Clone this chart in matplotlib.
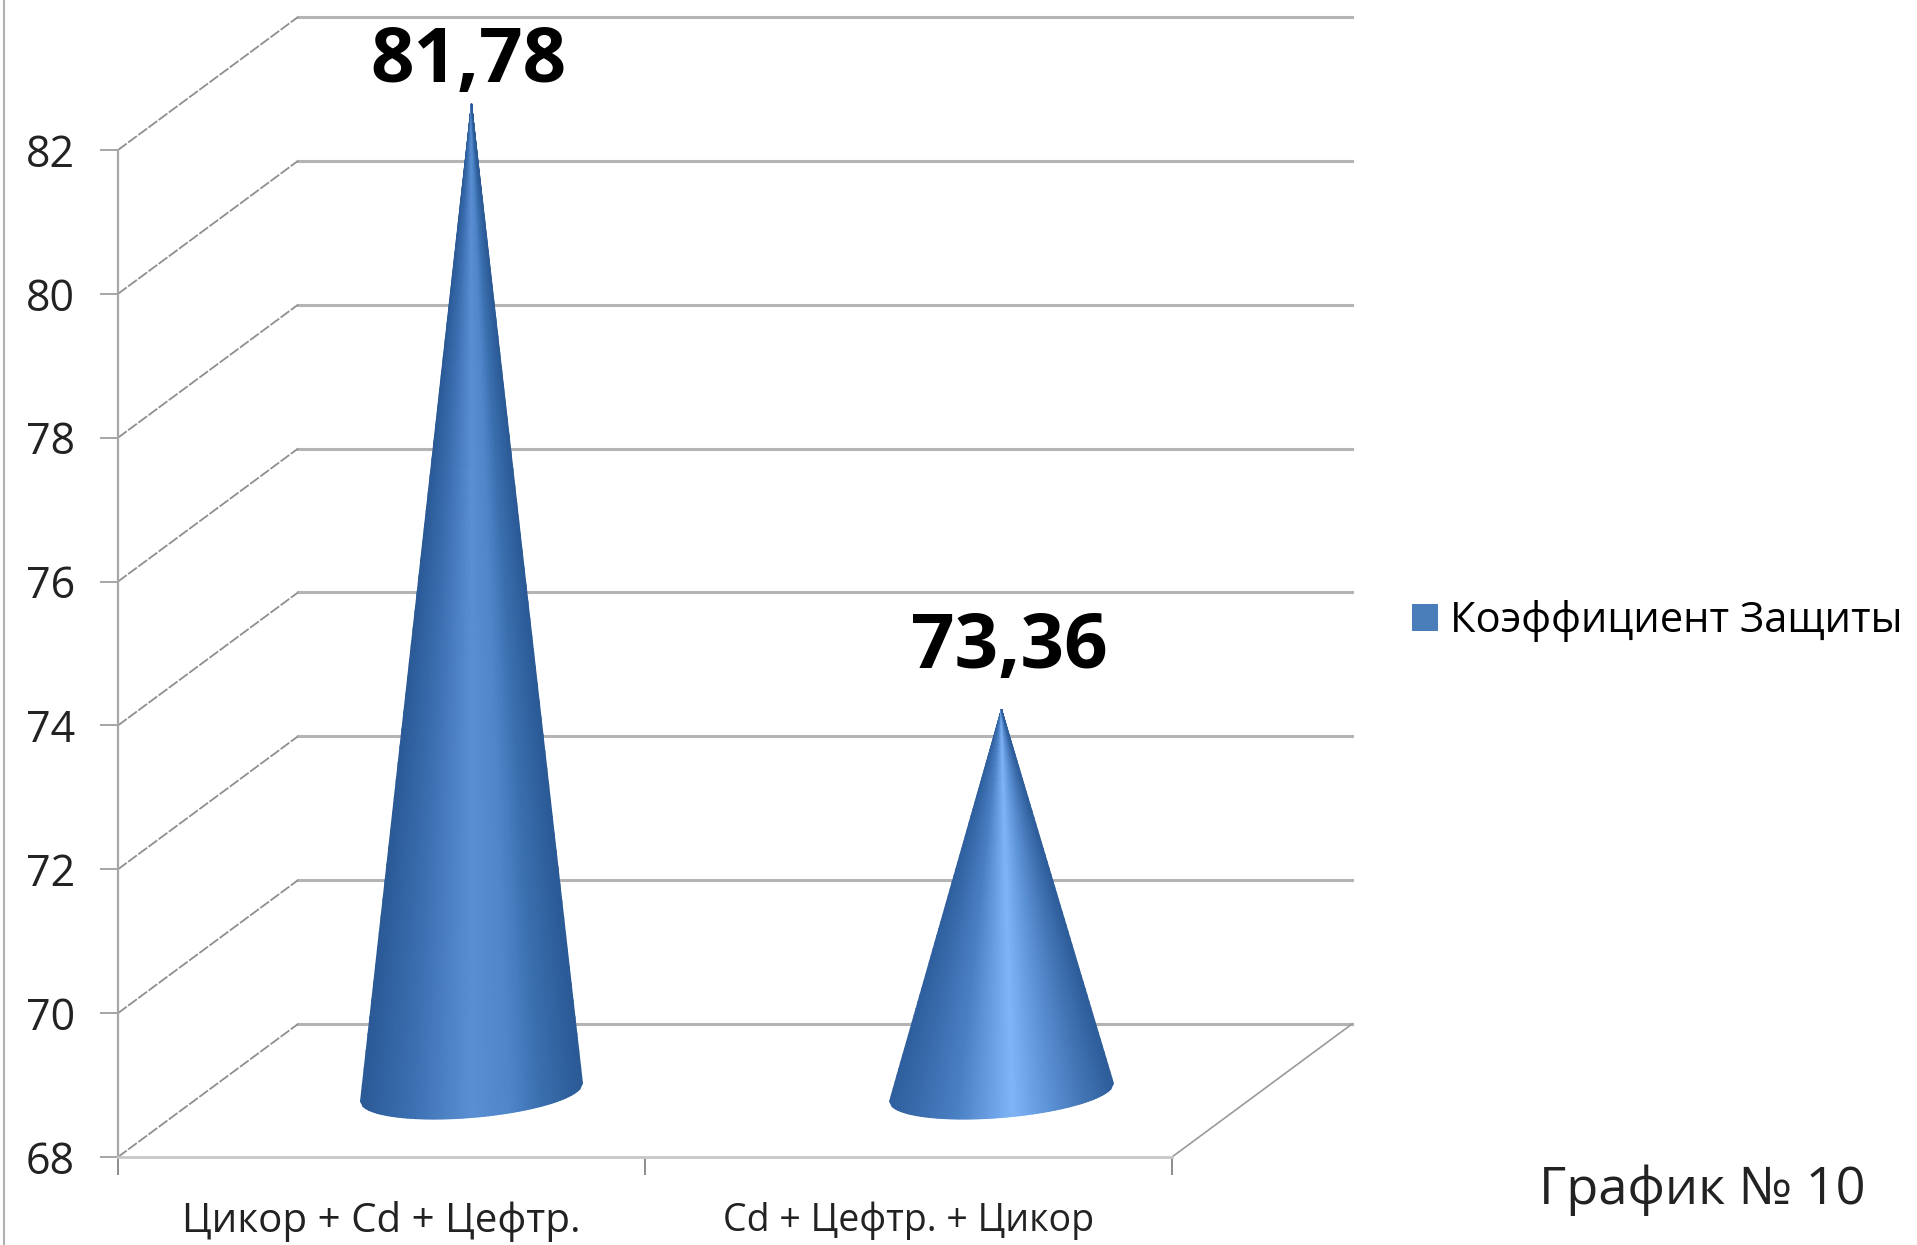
import numpy as np
import matplotlib
matplotlib.use('Agg')
import matplotlib.pyplot as plt
from matplotlib.colors import LinearSegmentedColormap
from matplotlib.lines import Line2D
from matplotlib.patches import Patch

plt.rcParams['font.family'] = ['Open Sans', 'DejaVu Sans']

categories = ['Цикор + Cd + Цефтр.', 'Cd + Цефтр. + Цикор']
values = [81.78, 73.36]
value_labels = ['81,78', '73,36']
y_ticks = [68, 70, 72, 74, 76, 78, 80, 82]
series_name = 'Коэффициент Защиты'
note = 'График № 10'

W, H = 1917, 1245
fig = plt.figure(figsize=(W / 100, H / 100), dpi=100)

# front plane of the fake 3d box, in pixels of the picture
left, right, y68, y82 = 118, 1172, 1157, 150
ax = fig.add_axes([left / W, 1 - y68 / H, (right - left) / W, (y68 - y82) / H])
ax.set_xlim(0, 2)
ax.set_ylim(68, 82)

# depth of the box in data units
dx = 180 / ((right - left) / 2)
dy = 133 / ((y68 - y82) / 14)

grid_col = '#b4b4b4'
axis_col = '#a6a6a6'

# back wall and side wall
for v in y_ticks:
    ax.plot([dx, 2 + dx], [v + dy, v + dy], color=grid_col, lw=2.2, clip_on=False, zorder=1)
    ax.plot([0, dx], [v, v + dy], color='#8f8f8f', lw=1.3, ls=(0, (6, 1)), clip_on=False, zorder=1)
ax.plot([2, 2 + dx], [68, 68 + dy], color='#9a9a9a', lw=1.2, clip_on=False, zorder=1)

cmaps = [
    LinearSegmentedColormap.from_list('c1', [(0, '#2b5a97'), (0.25, '#3e72b4'), (0.5, '#5a90d3'),
                                             (0.68, '#4f86c9'), (0.82, '#3a6fae'), (1, '#2b5a96')]),
    LinearSegmentedColormap.from_list('c2', [(0, '#2f5f9e'), (0.3, '#4a80c4'), (0.55, '#80b5f8'),
                                             (0.72, '#5c92d6'), (1, '#2e5d9a')]),
]
half_w = [111 / 527, 112 / 527]
cone_shift = [0, 3 / 527]
label_dx = [-0.005, 0.021]
label_dy = [0.51, 0.79]
px = 14 / (y68 - y82)  # data units per pixel on y

# cones, the mesh runs from the curved base up to the apex
for i, v in enumerate(values):
    cx = i + 0.5 + dx / 2
    s = np.linspace(-1, 1, 81)
    t = np.linspace(0, 1, 60)
    S, T = np.meshgrid(s, t)
    base = 68 + dy / 2 + px * (S * 9 - 25 * np.sqrt(1 - S ** 2) - 2)
    X = cx + cone_shift[i] + S * half_w[i] * (1 - T)
    Y = base + (v + dy / 2 - 0.06 - base) * T
    ax.pcolormesh(X, Y, S, cmap=cmaps[i], shading='gouraud', clip_on=False, zorder=3, vmin=-1, vmax=1)
    ax.text(cx + label_dx[i], v + dy / 2 + label_dy[i], value_labels[i], ha='center', va='center',
            fontsize=55, fontweight='bold', color='black', clip_on=False, zorder=4)

ax.set_yticks(y_ticks)
ax.set_yticklabels([str(v) for v in y_ticks])
ax.set_xticks([0, 1, 2])
ax.set_xticklabels(['', '', ''])
ax.set_xticks([0.5, 1.5], minor=True)
ax.set_xticklabels(categories, minor=True)
ax.tick_params(axis='y', length=13, width=1.4, color=axis_col, labelsize=31, pad=18, labelcolor='#222222')
ax.tick_params(axis='x', which='major', length=13, width=1.4, color='#8c8c8c')
ax.tick_params(axis='x', which='minor', length=0, labelsize=29, pad=32, labelcolor='#222222')
# the second label is set tighter in the original
ax.get_xticklabels(minor=True)[1].set_fontsize(27)
for side in ['top', 'right']:
    ax.spines[side].set_visible(False)
ax.spines['left'].set_color(axis_col)
ax.spines['left'].set_linewidth(1.6)
ax.spines['bottom'].set_color('#c8c8c8')
ax.spines['bottom'].set_linewidth(2)
ax.patch.set_alpha(0)

fig.legend(handles=[Patch(facecolor='#4a7ebb', edgecolor='none', label=series_name)],
           loc='center left', bbox_to_anchor=(1412 / W, 1 - 621 / H), frameon=False,
           fontsize=30, handlelength=0.62, handleheight=0.62, handletextpad=0.3,
           borderpad=0, borderaxespad=0)

fig.text(1702 / W, 1 - 1190 / H, note, ha='center', va='center', fontsize=37.7, color='#222222')

# thin frame line at the left edge of the screenshot
fig.add_artist(Line2D([4 / W, 4 / W], [0, 1], color='#b0b0b0', lw=1.5))

fig.savefig('out.png', dpi=100)
